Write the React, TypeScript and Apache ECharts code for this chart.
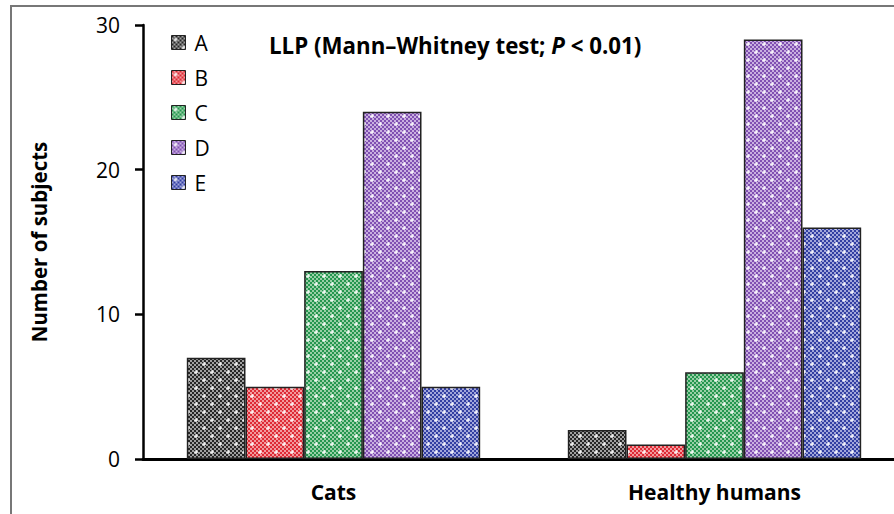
import React, { useEffect, useRef } from "react";
import * as echarts from "echarts";

const categories = ["Cats", "Healthy humans"];
const seriesNames = ["A", "B", "C", "D", "E"];
const valuesA = [7, 2];
const valuesB = [5, 1];
const valuesC = [13, 6];
const valuesD = [24, 29];
const valuesE = [5, 16];
const seriesValues = [valuesA, valuesB, valuesC, valuesD, valuesE];
const yTicks = [0, 10, 20, 30];

const palette: [string, string][] = [
  ["#262626", "#a0a0a0"],
  ["#de2a35", "#f29a9d"],
  ["#24964f", "#98cfa6"],
  ["#8050b2", "#c9afe0"],
  ["#323fa2", "#a1a6da"],
];

function makePattern(dark: string, light: string): HTMLCanvasElement {
  const c = document.createElement("canvas");
  const n = 16;
  c.width = n;
  c.height = n;
  const ctx = c.getContext("2d")!;
  for (let y = 0; y < n; y += 2) {
    for (let x = 0; x < n; x += 2) {
      ctx.fillStyle = ((x + y) / 2) % 2 === 0 ? dark : light;
      ctx.fillRect(x, y, 2, 2);
    }
  }
  ctx.fillStyle = "#ffffff";
  const plus = (cx: number, cy: number) => {
    ctx.fillRect(cx - 2, cy - 0.5, 4, 1.2);
    ctx.fillRect(cx - 0.5, cy - 2, 1.2, 4);
  };
  plus(4, 4);
  plus(12, 12);
  return c;
}

export default function App() {
  const ref = useRef<HTMLDivElement>(null);
  useEffect(() => {
    if (!ref.current) return;
    const chart = echarts.init(ref.current, undefined, { renderer: "svg" });
    const font = "'Open Sans', 'Noto Sans', sans-serif";
    const series = seriesNames.map((name, i) => ({
      name,
      type: "bar" as const,
      data: seriesValues[i],
      barGap: "0%",
      barCategoryGap: "23%",
      itemStyle: {
        color: { image: makePattern(palette[i][0], palette[i][1]), repeat: "repeat" },
        borderColor: "#222",
        borderWidth: 1.5,
      },
    }));
    chart.setOption({
      animation: false,
      backgroundColor: "#ffffff",
      title: {
        text: "{b|LLP (Mann–Whitney test; }{i|P}{b| < 0.01)}",
        left: 264,
        top: 29,
        textStyle: {
          rich: {
            b: { fontFamily: font, fontWeight: "bold", fontSize: 22.3, color: "#000" },
            i: { fontFamily: font, fontWeight: "bold", fontStyle: "italic", fontSize: 22.3, color: "#000" },
          },
        },
      },
      legend: {
        orient: "vertical",
        left: 166,
        top: 27,
        icon: "rect",
        itemWidth: 14,
        itemHeight: 14,
        itemGap: 14,
        data: seriesNames,
        textStyle: { fontFamily: font, fontSize: 21, color: "#000", padding: [0, 0, 0, 4] },
        itemStyle: { borderColor: "#222", borderWidth: 1 },
      },
      graphic: [
        {
          type: "rect",
          shape: { x: 11, y: 6, width: 940, height: 540 },
          style: { fill: "none", stroke: "#777", lineWidth: 2 },
          silent: true,
          z: -1,
        },
      ],
      grid: { left: 143, right: 5, top: 25, bottom: 55 },
      xAxis: {
        type: "category",
        data: categories,
        axisLine: { lineStyle: { color: "#000", width: 3 } },
        axisTick: { show: false },
        axisLabel: { fontFamily: font, fontWeight: "bold", fontSize: 21, color: "#000", margin: 22 },
      },
      yAxis: {
        type: "value",
        min: yTicks[0],
        max: yTicks[yTicks.length - 1],
        interval: 10,
        name: "Number of subjects",
        nameLocation: "middle",
        nameGap: 94,
        nameTextStyle: { fontFamily: font, fontWeight: "bold", fontSize: 20.5, color: "#000" },
        axisLine: { show: true, lineStyle: { color: "#000", width: 2.5 } },
        axisTick: { show: true, length: 8, lineStyle: { color: "#000", width: 2.5 } },
        axisLabel: { fontFamily: font, fontSize: 21, color: "#000", margin: 23 },
        splitLine: { show: false },
      },
      series,
    });
    return () => chart.dispose();
  }, []);
  return (
    <div
      ref={ref}
      style={{ position: "fixed", left: 0, top: 0, width: 910, height: 514 }}
    />
  );
}
